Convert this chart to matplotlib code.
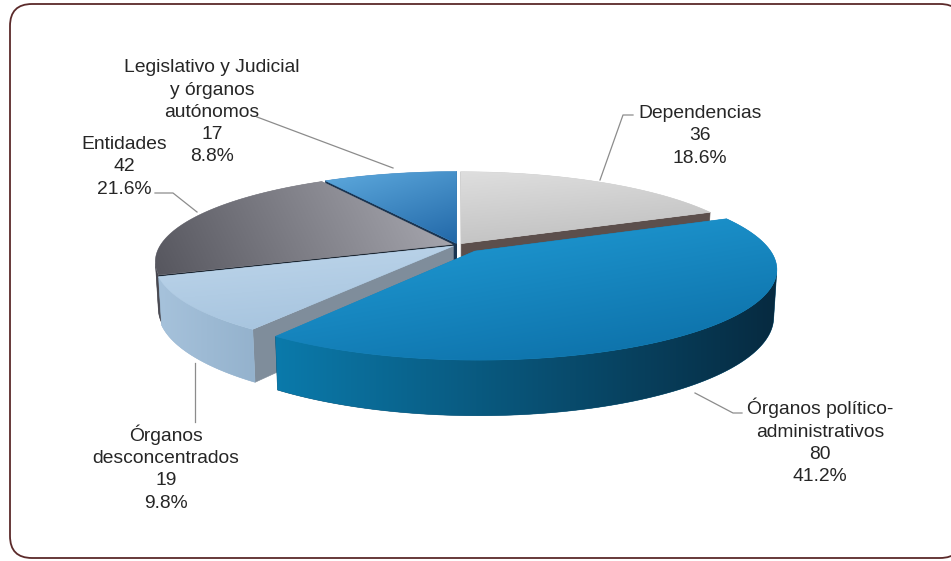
import numpy as np
import matplotlib
matplotlib.use("Agg")
import matplotlib.pyplot as plt
from matplotlib.patches import Polygon, FancyBboxPatch
from matplotlib.colors import to_rgb

# ---- data -------------------------------------------------------------
categories = [
    "Dependencias",
    "Órganos político-administrativos",
    "Órganos desconcentrados",
    "Entidades",
    "Legislativo y Judicial y órganos autónomos",
]
label_names = [
    "Dependencias",
    "Órganos político-\nadministrativos",
    "Órganos\ndesconcentrados",
    "Entidades",
    "Legislativo y Judicial\ny órganos\nautónomos",
]
values = [36, 80, 19, 42, 17]
explode = [0.02, 0.09, 0.02, 0.02, 0.02]

# ---- styles -----------------------------------------------------------
top_colors = [("#dedede", "#bdbdbd"), ("#22a0da", "#0b6ca4"), ("#bed6eb", "#a4c2dd"),
              ("#56565e", "#acacb4"), ("#2268a8", "#5eaade")]
top_dirs = [(0.3, 1.0), (0.6, 1.0), (0.3, 1.0), (1.0, -0.15), (-0.6, -1.0)]
wall_colors = [("#6a6a6a", "#5a5a5a"), ("#0b7aab", "#062a40"), ("#a6c2db", "#94b2cd"),
               ("#404048", "#55555d"), ("#1d4a72", "#1d4a72")]
start_face_colors = ["#d8d8d8", "#0a5a86", "#7f8d9b", "#1b2530", "#1a3552"]
end_face_colors = ["#5c4f4c", "#0a5a86", "#7f8d9b", "#2a2a30", "#17405e"]

# label layout: block centre and leader path (figure pixels)
label_pos = [(700, 133.5), (820, 441), (166, 467.5), (124, 164.5), (212, 110)]
leader_paths = [
    [(633, 115), (623, 115), (600, 180)],
    [(695, 393), (733, 413), (742, 413)],
    [(195, 363), (195, 422)],
    [(155, 193), (173, 193), (197, 212)],
    [(257, 117), (393, 168)],
]
LINE_STEP = 22.3
FONT_SIZE = 13.9

# ---- projection of the 3-D disc -------------------------------------------
W, H = 951, 561
CX, CY, SCALE = 458.0, 245.0, 292.0
SIN_T = 0.294
COS_T = np.sqrt(1 - SIN_T ** 2)
DIST = 5.07
DEPTH = 0.165
CAM = np.array([0.0, -DIST * COS_T, DIST * SIN_T])


def project(u, v, w):
    yc = v * SIN_T + w * COS_T
    zc = v * COS_T - w * SIN_T + DIST
    k = DIST / zc
    return CX + SCALE * u * k, CY - SCALE * yc * k, zc


def mix(c0, c1, t):
    a, b = np.array(to_rgb(c0)), np.array(to_rgb(c1))
    return tuple(a + (b - a) * np.clip(t, 0, 1))


def gradient_fill(ax, xy, c0, c1, direction, z):
    """Polygon filled with a linear colour ramp along `direction`."""
    mid = mix(c0, c1, 0.5)
    poly = Polygon(xy, closed=True, fc=mid, ec=mid, lw=0.4, zorder=z)
    ax.add_patch(poly)
    x0, x1 = xy[:, 0].min(), xy[:, 0].max()
    y0, y1 = xy[:, 1].min(), xy[:, 1].max()
    gx, gy = np.meshgrid(np.linspace(0, 1, 240), np.linspace(0, 1, 120))
    dx, dy = direction
    t = gx * dx + gy * dy
    t = (t - t.min()) / max(1e-9, (t.max() - t.min()))
    a, b = np.array(to_rgb(c0)), np.array(to_rgb(c1))
    img = a[None, None, :] + (b - a)[None, None, :] * t[..., None]
    im = ax.imshow(img, extent=(x0, x1, y1, y0), origin="upper", aspect="auto",
                   interpolation="bilinear", zorder=z + 0.001)
    im.set_clip_path(poly)


plt.rcParams["font.family"] = ["Liberation Sans", "DejaVu Sans"]
fig = plt.figure(figsize=(W / 100, H / 100), dpi=100)
ax = fig.add_axes([0, 0, 1, 1])
ax.set_xlim(0, W)
ax.set_ylim(H, 0)
ax.axis("off")

frame = FancyBboxPatch((10, 4), 952, 554, boxstyle="round,pad=0,rounding_size=22",
                       fc="white", ec="#5b2a2a", lw=1.3, zorder=0)
ax.add_patch(frame)

total = float(sum(values))
fracs = np.array(values) / total
bounds = np.concatenate([[0], np.cumsum(fracs)]) * 360.0

walls = []   # (depth, kind, payload)
tops = []

for i in range(len(values)):
    a, b = bounds[i], bounds[i + 1]
    m = np.radians((a + b) / 2)
    ox, oy = explode[i] * np.sin(m), explode[i] * np.cos(m)
    th = np.radians(np.linspace(a, b, max(10, int((b - a) / 1.0))))

    # top face
    pts = [project(ox, oy, 0)[:2]] + [project(ox + np.sin(t), oy + np.cos(t), 0)[:2] for t in th]
    tops.append((i, np.array(pts)))

    # outer curved wall: keep the angles that face the viewer
    vis = []
    for t in th:
        p = np.array([ox + np.sin(t), oy + np.cos(t), -DEPTH / 2])
        n = np.array([np.sin(t), np.cos(t), 0])
        vis.append(n @ (CAM - p) > 0)
    vis = np.array(vis)
    if vis.sum() >= 2:
        tv = th[vis]
        upper = [project(ox + np.sin(t), oy + np.cos(t), 0) for t in tv]
        lower = [project(ox + np.sin(t), oy + np.cos(t), -DEPTH) for t in tv[::-1]]
        xy = np.array([(x, y) for x, y, _ in upper + lower])
        dep = np.mean([z for _, _, z in upper + lower])
        walls.append((dep, "wall", (i, xy)))

    # radial cut faces
    for ang, is_start in [(np.radians(a), True), (np.radians(b), False)]:
        if is_start:
            n = np.array([-np.cos(ang), np.sin(ang), 0])
            col = start_face_colors[i]
        else:
            n = np.array([np.cos(ang), -np.sin(ang), 0])
            col = end_face_colors[i]
        p = np.array([ox + 0.5 * np.sin(ang), oy + 0.5 * np.cos(ang), -DEPTH / 2])
        if n @ (CAM - p) <= 0:
            continue
        q = [project(ox, oy, 0),
             project(ox + np.sin(ang), oy + np.cos(ang), 0),
             project(ox + np.sin(ang), oy + np.cos(ang), -DEPTH),
             project(ox, oy, -DEPTH)]
        xy = np.array([(x, y) for x, y, _ in q])
        dep = np.mean([z for _, _, z in q])
        walls.append((dep, "face", (col, xy)))

walls.sort(key=lambda s: -s[0])
for k, (dep, kind, payload) in enumerate(walls):
    z = 1 + k * 0.01
    if kind == "wall":
        i, xy = payload
        gradient_fill(ax, xy, wall_colors[i][0], wall_colors[i][1], (1.0, 0.0), z)
    else:
        col, xy = payload
        ax.add_patch(Polygon(xy, closed=True, fc=col, ec=col, lw=0.4, zorder=z))

# top faces
for i, xy in tops:
    gradient_fill(ax, xy, top_colors[i][0], top_colors[i][1], top_dirs[i], 3)

ax.set_xlim(0, W)
ax.set_ylim(H, 0)

# labels and leader lines
for i in range(len(values)):
    lines = label_names[i].split("\n") + [f"{values[i]}", f"{fracs[i] * 100:.1f}%"]
    cx, cy = label_pos[i]
    nlines = len(lines)
    for j, line in enumerate(lines):
        y = cy + (j - (nlines - 1) / 2) * LINE_STEP
        ax.text(cx, y + 6.8, line, ha="center", va="baseline",
                fontsize=FONT_SIZE, color="#262626", zorder=6)
    path = np.array(leader_paths[i])
    ax.plot(path[:, 0], path[:, 1], color="#8c8c8c", lw=0.9, zorder=5)

fig.savefig("out.png", dpi=100)
